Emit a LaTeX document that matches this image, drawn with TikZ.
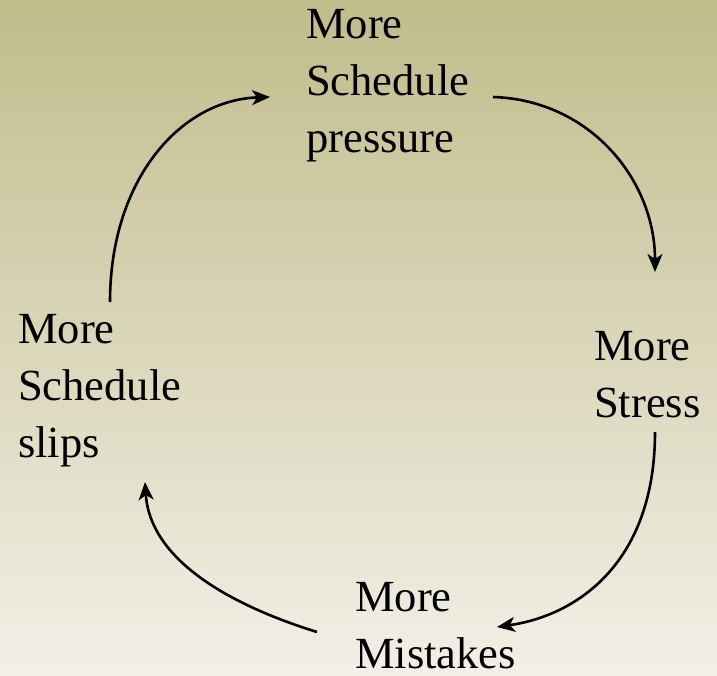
\documentclass[tikz,border=0pt]{standalone}
\usepackage{fontspec}
\setmainfont{Liberation Serif}
\usetikzlibrary{arrows.meta}
\definecolor{bgtop}{RGB}{193,188,139}
\definecolor{bgbot}{RGB}{242,240,231}
\begin{document}
\begin{tikzpicture}[x=1pt,y=-1pt,
  phase/.style={anchor=base west, inner sep=0pt, align=left,
    font=\fontsize{44.5}{57}\selectfont},
  cycle/.style={line width=2.6pt, -{Stealth[length=18pt,width=15pt,inset=5pt]}}]
  % background
  \shade[top color=bgtop, bottom color=bgbot] (0,0) rectangle (717,676);
  \useasboundingbox (0,0) rectangle (717,676);

  % stages of the loop (anchored on the baseline of the last line)
  \node[phase] (press) at (306,153)  {More\\Schedule\\pressure};
  \node[phase] (stress) at (594,417) {More\\Stress};
  \node[phase] (mist) at (355,668)   {More\\Mistakes};
  \node[phase] (slips) at (18,457)   {More\\Schedule\\slips};

  % connector ends
  \coordinate (p-out) at (493,97);
  \coordinate (s-in)  at (655,272);
  \coordinate (s-out) at (655,432);
  \coordinate (m-in)  at (497,627);
  \coordinate (m-out) at (317,632);
  \coordinate (l-in)  at (145,482);
  \coordinate (l-out) at (110,302);
  \coordinate (p-in)  at (270,97);

  \draw[cycle] (p-out) .. controls (590,100) and (655,180) .. (s-in);
  \draw[cycle] (s-out) .. controls (655,560) and (580,615) .. (m-in);
  \draw[cycle] (m-out) .. controls (230,605) and (150,560) .. (l-in);
  \draw[cycle] (l-out) .. controls (110,180) and (180,100) .. (p-in);
\end{tikzpicture}
\end{document}
